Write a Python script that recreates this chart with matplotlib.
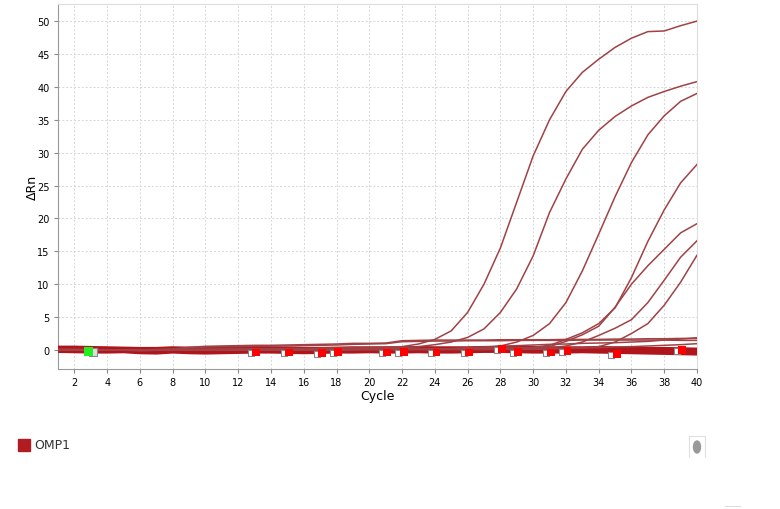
import matplotlib
matplotlib.use("Agg")
import matplotlib.pyplot as plt
from matplotlib.patches import Rectangle, Ellipse
from matplotlib.lines import Line2D

cycles = list(range(1, 41))

# amplification curves (deltaRn per cycle 1..40)
curve_a = [0.1, 0.1, 0.05, 0.0, 0.0, -0.05, 0.0, 0.05, 0.1, 0.1,
           0.1, 0.15, 0.15, 0.2, 0.2, 0.2, 0.25, 0.3, 0.3, 0.35,
           0.4, 0.5, 0.9, 1.6, 2.9, 5.7, 10.0, 15.5, 22.5, 29.5,
           35.0, 39.3, 42.2, 44.2, 46.0, 47.4, 48.4, 48.5, 49.3, 50.0]
curve_b = [0.0, 0.0, -0.05, -0.05, 0.0, 0.0, 0.05, 0.05, 0.1, 0.1,
           0.1, 0.1, 0.15, 0.15, 0.2, 0.2, 0.2, 0.25, 0.25, 0.3,
           0.3, 0.35, 0.5, 0.8, 1.2, 1.9, 3.2, 5.7, 9.3, 14.3,
           20.9, 26.0, 30.5, 33.4, 35.5, 37.1, 38.4, 39.3, 40.1, 40.8]
curve_c = [0.05, 0.05, 0.0, 0.0, 0.0, -0.05, 0.0, 0.0, 0.05, 0.05,
           0.05, 0.1, 0.1, 0.1, 0.1, 0.1, 0.15, 0.15, 0.15, 0.15,
           0.15, 0.2, 0.2, 0.2, 0.2, 0.25, 0.3, 0.6, 1.2, 2.2,
           4.0, 7.2, 12.0, 17.6, 23.3, 28.5, 32.7, 35.6, 37.8, 39.0]
curve_d = [0.0, 0.0, 0.0, -0.05, -0.05, -0.1, -0.05, 0.0, 0.0, 0.0,
           0.0, 0.0, 0.05, 0.05, 0.05, 0.05, 0.05, 0.1, 0.1, 0.1,
           0.1, 0.1, 0.15, 0.15, 0.15, 0.2, 0.2, 0.25, 0.3, 0.4,
           0.7, 1.6, 2.6, 4.0, 6.4, 11.0, 16.5, 21.3, 25.4, 28.2]
curve_e = [0.0, 0.0, 0.0, 0.0, -0.05, -0.05, 0.0, 0.0, 0.0, 0.05,
           0.05, 0.05, 0.05, 0.05, 0.1, 0.1, 0.1, 0.1, 0.1, 0.1,
           0.15, 0.15, 0.15, 0.15, 0.15, 0.2, 0.2, 0.2, 0.25, 0.3,
           0.5, 1.3, 2.3, 3.6, 6.5, 10.0, 12.8, 15.3, 17.8, 19.2]
curve_f = [0.0, 0.0, -0.05, -0.05, -0.05, -0.1, -0.05, 0.0, 0.0, 0.0,
           0.0, 0.0, 0.0, 0.05, 0.05, 0.05, 0.05, 0.05, 0.1, 0.1,
           0.1, 0.1, 0.1, 0.1, 0.15, 0.15, 0.15, 0.15, 0.2, 0.2,
           0.3, 0.6, 1.2, 2.2, 3.3, 4.6, 7.2, 10.6, 14.1, 16.6]
curve_g = [0.0, 0.0, 0.0, -0.05, -0.05, -0.05, 0.0, 0.0, 0.0, 0.0,
           0.0, 0.0, 0.0, 0.0, 0.05, 0.05, 0.05, 0.05, 0.05, 0.05,
           0.05, 0.1, 0.1, 0.1, 0.1, 0.1, 0.1, 0.15, 0.15, 0.15,
           0.2, 0.25, 0.3, 0.5, 1.2, 2.5, 4.0, 6.8, 10.3, 14.4]

# low, nearly flat curves
low_1 = [0.0, 0.0, 0.0, 0.0, -0.05, 0.0, 0.05, 0.15, 0.4, 0.55,
         0.6, 0.65, 0.7, 0.7, 0.75, 0.8, 0.85, 0.9, 1.0, 1.0,
         1.05, 1.4, 1.45, 1.5, 1.5, 1.5, 1.5, 1.55, 1.55, 1.55,
         1.55, 1.6, 1.6, 1.6, 1.65, 1.65, 1.7, 1.7, 1.75, 1.75]
low_2 = [0.0, 0.0, 0.0, -0.05, -0.05, -0.05, 0.0, 0.1, 0.3, 0.45,
         0.5, 0.5, 0.55, 0.6, 0.6, 0.65, 0.7, 0.75, 0.85, 0.9,
         0.95, 1.25, 1.3, 1.35, 1.35, 1.4, 1.4, 1.4, 1.45, 1.45,
         1.45, 1.45, 1.5, 1.5, 1.5, 1.5, 1.5, 1.5, 1.45, 1.45]
low_3 = [0.0, 0.0, 0.0, 0.0, 0.0, -0.05, 0.0, 0.0, 0.0, 0.0,
         0.0, 0.0, 0.05, 0.05, 0.05, 0.05, 0.05, 0.05, 0.1, 0.1,
         0.1, 0.1, 0.1, 0.15, 0.2, 0.35, 0.45, 0.55, 0.65, 0.75,
         0.85, 0.9, 1.0, 1.05, 1.1, 1.2, 1.3, 1.5, 1.65, 1.85]
low_4 = [0.0, 0.0, 0.0, 0.0, 0.0, 0.0, 0.0, 0.0, 0.0, 0.0,
         0.0, 0.0, 0.0, 0.0, 0.0, 0.0, 0.0, 0.0, 0.0, 0.05,
         0.05, 0.05, 0.05, 0.05, 0.05, 0.05, 0.05, 0.1, 0.1, 0.1,
         0.15, 0.2, 0.3, 0.35, 0.45, 0.5, 0.6, 0.7, 0.8, 0.95]

# negative / baseline wells
base_1 = [0.3, 0.3, 0.25, 0.2, 0.15, 0.1, 0.1, 0.2, 0.15, 0.1,
          0.1, 0.15, 0.2, 0.2, 0.15, 0.1, 0.1, 0.15, 0.2, 0.2,
          0.2, 0.2, 0.25, 0.2, 0.2, 0.2, 0.25, 0.3, 0.3, 0.25,
          0.2, 0.2, 0.2, 0.25, 0.2, 0.15, 0.1, 0.1, 0.05, 0.0]
base_2 = [0.1, 0.1, 0.0, -0.05, -0.1, -0.15, -0.1, 0.0, -0.2, -0.2,
          -0.1, -0.05, 0.0, 0.0, -0.05, -0.1, -0.05, 0.0, 0.0, 0.05,
          0.0, 0.0, 0.05, 0.0, 0.0, 0.05, 0.1, 0.1, 0.05, 0.0,
          0.0, 0.0, 0.05, 0.0, -0.05, -0.1, -0.1, -0.15, -0.2, -0.25]
base_3 = [-0.1, -0.15, -0.2, -0.2, -0.15, -0.3, -0.35, -0.2, -0.3, -0.35,
          -0.3, -0.25, -0.2, -0.2, -0.25, -0.3, -0.25, -0.2, -0.2, -0.15,
          -0.2, -0.2, -0.15, -0.2, -0.2, -0.15, -0.1, -0.1, -0.15, -0.2,
          -0.2, -0.2, -0.15, -0.2, -0.25, -0.3, -0.35, -0.4, -0.45, -0.5]

# Ct markers
ct_cycles = [13.1, 15.1, 17.1, 18.1, 21.1, 22.1, 24.1, 26.1, 28.1, 29.1,
             31.1, 32.1, 35.1, 39.1]
ct_values = [-0.4, -0.4, -0.5, -0.35, -0.4, -0.35, -0.4, -0.4, 0.1, -0.3,
             -0.4, -0.2, -0.6, 0.0]
green_cycle = 2.87
green_value = -0.25

line_col = "#a04245"
base_col = "#b0151c"

fig = plt.figure(figsize=(7.8, 5.1), dpi=100)
ax = fig.add_axes([58 / 780, 1 - 370 / 510, 639 / 780, 365 / 510])

for b in [base_1, base_2, base_3]:
    ax.plot(cycles, b, color=base_col, lw=3.4, solid_capstyle="butt", zorder=3)

for c in [curve_a, curve_b, curve_c, curve_d, curve_e, curve_f, curve_g,
          low_1, low_2, low_3, low_4]:
    ax.plot(cycles, c, color=line_col, lw=1.1, zorder=4)

# open squares just left of each Ct marker
ax.scatter([x - 0.32 for x in ct_cycles], [v - 0.1 for v in ct_values],
           marker="s", s=22, facecolor="white", edgecolor="#888888",
           linewidth=0.8, zorder=5)
ax.scatter(ct_cycles, ct_values, marker="s", s=32, color="#ff0000",
           edgecolor="none", zorder=6)
ax.scatter([green_cycle + 0.25], [green_value], marker="s", s=26,
           facecolor="#dddddd", edgecolor="#888888", linewidth=0.8, zorder=5)
ax.scatter([green_cycle], [green_value], marker="s", s=36, color="#22ee22",
           edgecolor="none", zorder=6)

ax.set_xlim(1, 40)
ax.set_ylim(-2.9, 52.6)
ax.set_xticks(range(2, 41, 2))
ax.set_yticks(range(0, 51, 5))
ax.tick_params(labelsize=7, length=3, color="#888888", pad=3)
ax.grid(True, color="#d6d6d6", linestyle=(0, (2, 2)), linewidth=0.7)
ax.set_axisbelow(True)
for side in ["left", "bottom"]:
    ax.spines[side].set_color("#999999")
for side in ["top", "right"]:
    ax.spines[side].set_color("#dddddd")
ax.set_xlabel("Cycle", fontsize=9, labelpad=1.5)
ax.set_ylabel("ΔRn", fontsize=9, labelpad=-1)

# legend
fig.add_artist(Rectangle((18 / 780, 1 - 452 / 510), 12 / 780, 12 / 510,
                         transform=fig.transFigure, color="#b01c22"))
fig.text(34 / 780, 1 - 446 / 510, "OMP1", fontsize=9, va="center",
         color="#333333")

# small gray icon at right
fig.add_artist(Line2D([689 / 780, 689 / 780, 705 / 780, 705 / 780],
                      [1 - 458 / 510, 1 - 437 / 510, 1 - 437 / 510, 1 - 458 / 510],
                      transform=fig.transFigure, color="#e0e0e0", lw=0.8))
fig.add_artist(Ellipse((697 / 780, 1 - 448 / 510), 7 / 780, 12 / 510,
                       transform=fig.transFigure, color="#999999"))
fig.add_artist(Line2D([725 / 780, 740 / 780], [1 - 507 / 510, 1 - 507 / 510],
                      transform=fig.transFigure, color="#dddddd", lw=0.8))

fig.savefig("out.png", dpi=100)
